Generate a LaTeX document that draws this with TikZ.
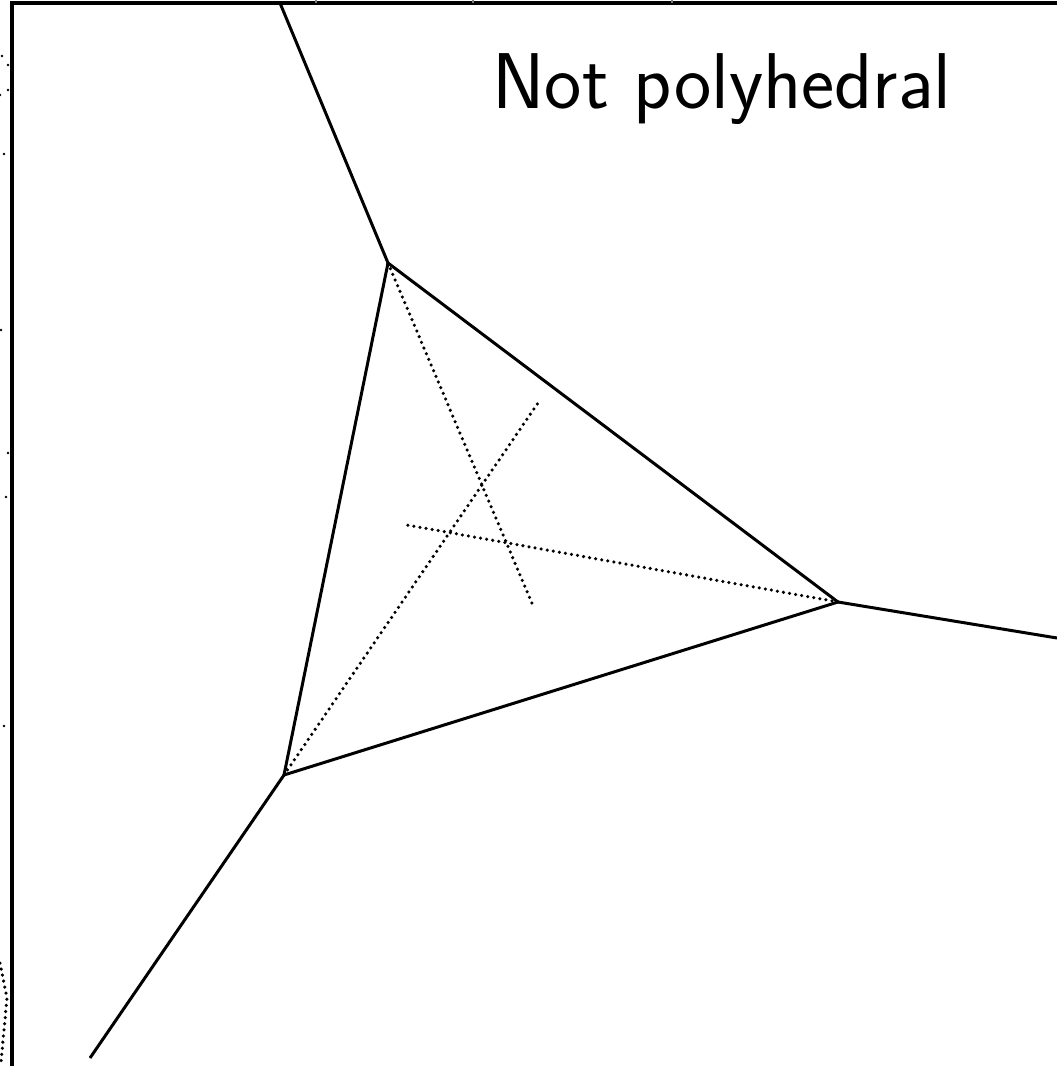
\documentclass[tikz,border=0pt]{standalone}
\usetikzlibrary{positioning}
\tikzset{
    edge/.style={line width=0.85pt},
    frameline/.style={line width=1pt},
    ray/.style={line width=1pt, line cap=round, dash pattern=on 0pt off 1.75pt},
}
\begin{document}
\begin{tikzpicture}[x=0.01cm, y=-0.01cm]
    \useasboundingbox (0, 0) rectangle (1057, 1066);

    % Frame of the plot
    \coordinate (frameTL) at (12, 3);
    \coordinate (frameTR) at (1057, 3);
    \coordinate (frameBL) at (12, 1066);
    \draw[frameline] (frameBL) -- (frameTL) -- (frameTR);
    \foreach \tx in {316, 473, 672}
        \draw[gray, line width=0.3pt] (\tx, 0) -- (\tx, 3);

    % Vertices of the cell
    \coordinate (vA) at (388, 263);
    \coordinate (vB) at (284, 775);
    \coordinate (vC) at (838, 602);
    \coordinate (endTop) at (280, 3);
    \coordinate (endRight) at (1057, 638);
    \coordinate (endLow) at (90, 1058);

    % Edges
    \draw[edge] (endTop) -- (vA);
    \draw[edge] (vA) -- (vC);
    \draw[edge] (vA) -- (vB);
    \draw[edge] (vB) -- (vC);
    \draw[edge] (vC) -- (endRight);
    \draw[edge] (vB) -- (endLow);

    % Dotted rays
    \coordinate (rayA) at (534, 608);
    \coordinate (rayB) at (540, 400);
    \coordinate (rayC) at (407, 525);
    \draw[ray] (vA) -- (rayA);
    \draw[ray] (vB) -- (rayB);
    \draw[ray] (vC) -- (rayC);

    % Stray dots beyond the frame
    \foreach \dx/\dy in {2/56, 8/65, 8/90, 0/95, 4/154, 1/330, 8/453, 6/497, 4/726}
        \fill (\dx, \dy) circle (1.4);
    \coordinate (strayTop) at (0, 963);
    \coordinate (strayMid) at (7, 998);
    \coordinate (strayLow) at (1, 1062);
    \draw[ray] (strayTop) -- (strayMid) -- (strayLow);

    % Title
    \node[anchor=base, inner sep=0pt, font=\fontsize{22.5}{27}\sffamily] (title) at (722, 108) {Not polyhedral};
\end{tikzpicture}
\end{document}
